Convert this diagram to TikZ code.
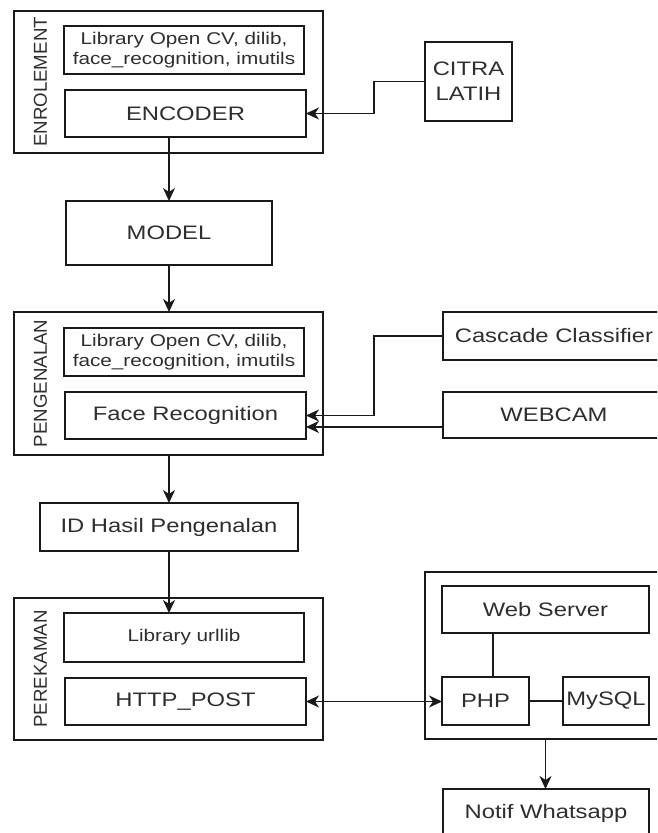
\documentclass[tikz,border=0pt]{standalone}
\usepackage{fontspec}
\usetikzlibrary{arrows.meta}
\newfontfamily\lab[FakeStretch=1.22]{Liberation Sans}
\newfontfamily\vlab{Liberation Sans}
\definecolor{linec}{HTML}{1A1A1A}
\definecolor{textc}{HTML}{2E2E2E}
\tikzset{
  tip/.tip={Stealth[length=13pt,width=12pt,inset=4pt]},
  box/.style={draw=linec, line width=1.6pt, inner sep=0pt, outer sep=0pt,
    align=center, anchor=north west, text=textc,
    font=\lab\fontsize{19.5}{25}\selectfont},
  small/.style={font=\lab\fontsize{17}{20}\selectfont},
  group/.style={draw=linec, line width=1.6pt, inner sep=0pt, outer sep=0pt,
    anchor=north west},
  vlabel/.style={rotate=90, text=textc, inner sep=0pt,
    font=\vlab\fontsize{18.7}{20}\selectfont},
  arr/.style={draw=linec, line width=1.6pt, -tip},
  darr/.style={draw=linec, line width=1.6pt, tip-tip},
  link/.style={draw=linec, line width=1.6pt}
}
\begin{document}
\begin{tikzpicture}[x=1pt,y=-1pt]
\path[use as bounding box, clip] (0,0) rectangle (657,833);
\fill[white] (0,0) rectangle (657,833);

% --- Enrolement stage ---
\node[group, minimum width=309pt, minimum height=142pt] (enr) at (14,11) {};
\node[vlabel] (enrlab) at (40.5,82) {ENROLEMENT};
\node[box, small, minimum width=240pt, minimum height=48pt] (lib1) at (64,26)
  {Library Open CV, dilib,\\face\_recognition, imutils};
\node[box, minimum width=241pt, minimum height=47pt] (enc) at (65,90) {ENCODER};
\node[box, minimum width=87pt, minimum height=79pt] (citra) at (425,42) {CITRA\\LATIH};

% --- Model ---
\node[box, minimum width=206pt, minimum height=64pt] (model) at (66,201) {MODEL};

% --- Recognition stage ---
\node[group, minimum width=309pt, minimum height=143pt] (pen) at (14,312) {};
\node[vlabel] (penlab) at (40.5,383.5) {PENGENALAN};
\node[box, small, minimum width=240pt, minimum height=48pt] (lib2) at (64,328)
  {Library Open CV, dilib,\\face\_recognition, imutils};
\node[box, minimum width=241pt, minimum height=47pt] (face) at (65,392) {Face Recognition};
\node[box, minimum width=222pt, minimum height=48pt] (casc) at (443,312) {Cascade Classifier};
\node[box, minimum width=222pt, minimum height=46pt] (cam) at (443,392) {WEBCAM};

% --- Result ---
\node[box, minimum width=258pt, minimum height=48pt] (id) at (40,503) {ID Hasil Pengenalan};

% --- Recording stage ---
\node[group, minimum width=309pt, minimum height=142pt] (per) at (14,598) {};
\node[vlabel] (perlab) at (40.5,669) {PEREKAMAN};
\node[box, small, minimum width=240pt, minimum height=49pt] (liburl) at (64,613) {Library urllib};
\node[box, minimum width=241pt, minimum height=47pt] (http) at (65,678) {HTTP\_POST};

% --- Server side ---
\node[group, minimum width=241pt, minimum height=167pt] (srv) at (425,572) {};
\node[box, minimum width=207pt, minimum height=47pt] (web) at (442,586) {Web Server};
\node[box, minimum width=87pt, minimum height=48pt] (php) at (442,677) {PHP};
\node[box, minimum width=86pt, minimum height=48pt] (sql) at (563,677) {MySQL};
\node[box, minimum width=206pt, minimum height=48pt] (notif) at (443,789) {Notif Whatsapp};

% --- Connectors ---
\draw[arr] (citra.west) -- ++(-51,0) |- (enc.east);
\draw[arr] (enc.south -| model.north) -- (model.north);
\draw[arr] (model.south) -- (model.south |- pen.north);
\draw[arr] (casc.west) -- ++(-69,0) |- (face.east);
\draw[arr] ([yshift=-12pt]cam.west) coordinate (camout) -- (camout -| face.east);
\draw[arr] (id.north |- pen.south) -- (id.north);
\draw[arr] (id.south) -- (id.south |- liburl.north);
\draw[darr] (http.east) -- (http.east -| php.west);
\draw[link] ([xshift=7.5pt]php.north) -- ([xshift=7.5pt]php.north |- web.south);
\draw[link] (php.east) -- (php.east -| sql.west);
\draw[arr] (srv.south) -- (srv.south |- notif.north);
\end{tikzpicture}
\end{document}
